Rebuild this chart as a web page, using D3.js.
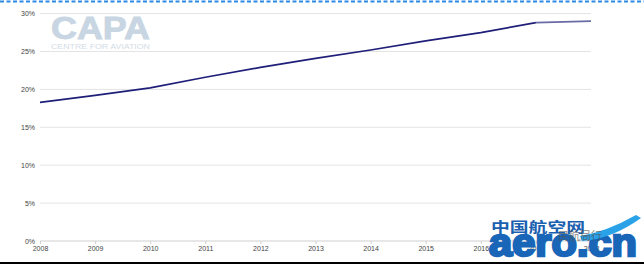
<!DOCTYPE html>
<html><head><meta charset="utf-8">
<script src="https://cdn.jsdelivr.net/npm/d3@7"></script>
<style>body{margin:0;background:#fff}svg{display:block}</style>
</head><body>
<svg id="c" width="644" height="265"></svg>
<script>
const years = [2008,2009,2010,2011,2012,2013,2014,2015,2016,2017,2018];
const shareActual = [18.3,19.2,20.2,21.6,22.9,24.1,25.2,26.4,27.5,28.8,null];
const shareForecast = [null,null,null,null,null,null,null,null,null,28.8,29.0];
const yTicks = [0,5,10,15,20,25,30];

const svg = d3.select("#c");
const x = d3.scaleLinear().domain([2008,2018]).range([40,591]);
const y = d3.scaleLinear().domain([0,30]).range([241,13.6]);

// top dashed border
svg.append("line").attr("x1",0).attr("x2",644).attr("y1",1.5).attr("y2",1.5)
  .attr("stroke","#2b8ae6").attr("stroke-width",2).attr("stroke-dasharray","4,2.5");
// bottom black line
svg.append("line").attr("x1",0).attr("x2",644).attr("y1",263).attr("y2",263)
  .attr("stroke","#000").attr("stroke-width",2);

// CAPA watermark
svg.append("text").attr("x",51).attr("y",39).text("CAPA")
  .attr("font-family","Liberation Sans, Arial").attr("font-weight","bold")
  .attr("font-size",31).attr("fill","#c8d5e2").attr("stroke","#c8d5e2").attr("stroke-width",0.8)
  .attr("textLength",99).attr("lengthAdjust","spacingAndGlyphs");
svg.append("text").attr("x",51).attr("y",49).text("CENTRE FOR AVIATION")
  .attr("font-family","Liberation Sans, Arial").attr("font-size",7.5).attr("fill","#d3dce6")
  .attr("textLength",99).attr("lengthAdjust","spacingAndGlyphs");

// gridlines
svg.append("g").selectAll("line").data(yTicks).join("line")
  .attr("x1",40).attr("x2",591).attr("y1",d=>y(d)).attr("y2",d=>y(d))
  .attr("stroke",d=>d===0?"#cfcfcf":"#e4e4e4").attr("stroke-width",1);
svg.append("g").selectAll("text").data(yTicks).join("text")
  .attr("x",35).attr("y",d=>y(d)+2.5).attr("text-anchor","end").text(d=>d+"%")
  .attr("font-family","Liberation Sans, Arial").attr("font-size",7).attr("fill","#444");

// x axis
const xAxis = d3.axisBottom(x).tickValues(years).tickFormat(d3.format("d")).tickSize(3).tickPadding(2);
const gx = svg.append("g").attr("transform","translate(0,241)").call(xAxis);
gx.select(".domain").remove();
gx.selectAll(".tick line").attr("stroke","#cfcfcf");
gx.selectAll("text").attr("font-family","Liberation Sans, Arial").attr("font-size",7).attr("fill","#444");

// lines
const line = d3.line().defined(d=>d[1]!=null).x(d=>x(d[0])).y(d=>y(d[1]));
svg.append("path").datum(years.map((t,i)=>[t,shareActual[i]]))
  .attr("d",line).attr("fill","none").attr("stroke","#1f1f7a").attr("stroke-width",1.7);
svg.append("path").datum(years.map((t,i)=>[t,shareForecast[i]]))
  .attr("d",line).attr("fill","none").attr("stroke","#6a6aa6").attr("stroke-width",1.7);

// aero.cn watermark
const wm = svg.append("g");
wm.append("text").attr("x",491).attr("y",232).text("中国航空网")
  .attr("font-family","Noto Sans CJK SC").attr("font-weight","bold").attr("font-size",14)
  .attr("fill","#1b5fb0").attr("textLength",94).attr("lengthAdjust","spacingAndGlyphs");
wm.append("text").attr("transform","translate(489,256) scale(1,1.4)").text("aero.cn")
  .attr("font-family","Liberation Sans, Arial").attr("font-weight","bold").attr("font-size",28)
  .attr("fill","#1966b8").attr("stroke","#1966b8").attr("stroke-width",1.8)
  .attr("textLength",148).attr("lengthAdjust","spacingAndGlyphs");
wm.append("path").attr("d","M580,236 Q606,232 636,215 L641,218 Q612,239 582,241 Z").attr("fill","#2aa2e8");
wm.append("text").attr("x",558).attr("y",240).text("民航局行")
  .attr("font-family","Noto Sans CJK SC").attr("font-size",11).attr("fill","#555").attr("opacity",0.7);
</script>
</body></html>
